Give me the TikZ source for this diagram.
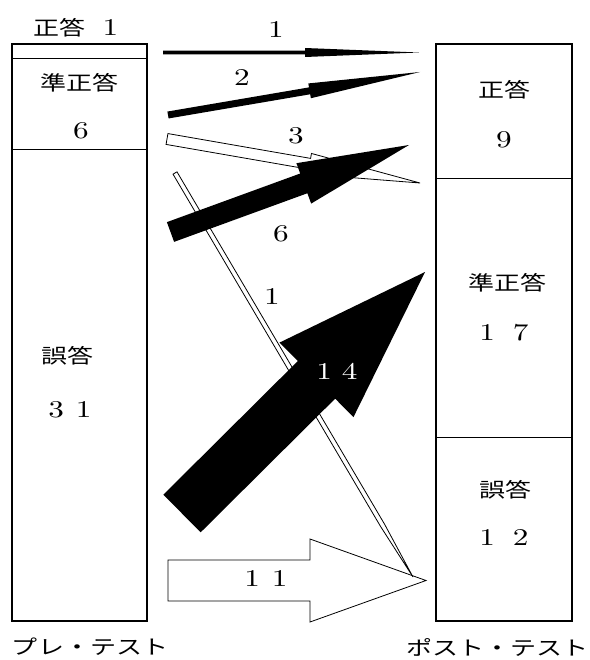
\documentclass[tikz,border=0pt]{standalone}
\usepackage{fontspec}
\newfontfamily\jpfont{Noto Sans CJK JP}[FakeStretch=1.3]
\newfontfamily\dgfont{lmroman10-regular.otf}[FakeStretch=1.3]
\usetikzlibrary{calc}
\newcommand\jtext[1]{{\jpfont\fontsize{20}{24}\selectfont #1}}
\newcommand\dtext[1]{{\dgfont\fontsize{24}{28}\selectfont #1}}
% #1 style, #2 tail, #3 tip, #4 half shaft width, #5 half head width, #6 head length
\newcommand\blockarrow[6]{%
  \coordinate (hb-#2) at ($(#3)!#6!(#2)$);
  \path[#1] ($(#2)!#4!90:(#3)$) -- ($(hb-#2)!#4!90:(#3)$) -- ($(hb-#2)!#5!90:(#3)$)
    -- (#3) -- ($(hb-#2)!#5!-90:(#3)$) -- ($(hb-#2)!#4!-90:(#3)$) -- ($(#2)!#4!-90:(#3)$) -- cycle;}
\tikzset{
  boxline/.style={line width=1.8pt},
  divline/.style={line width=0.8pt},
  lbl/.style={inner sep=0pt, anchor=center},
  blackarrow/.style={fill=black},
  hollowarrow/.style={fill=white, draw=black, line width=0.8pt, line join=miter},
}
\begin{document}
\begin{tikzpicture}[x=1pt,y=-1pt]
\useasboundingbox (0,0) rectangle (589,660);
% boxes
\draw[boxline] (12,44) rectangle (147,621);
\draw[divline] (12,58) -- (147,58);
\draw[divline] (12,149) -- (147,149);
\draw[boxline] (436,44) rectangle (572,621);
\draw[divline] (436,178) -- (572,178);
\draw[divline] (436,437) -- (572,437);
% box labels
\node[lbl] (top) at (76,28) {\jtext{正答}\hspace{17pt}\dtext{1}};
\node[lbl] (lq) at (79,83) {\jtext{準正答}};
\node[lbl] (lqn) at (81,131) {\dtext{6}};
\node[lbl] (lw) at (67,356) {\jtext{誤答}};
\node[lbl] (lwn) at (70,410) {\dtext{3\hspace{12pt}1}};
\node[lbl] (rc) at (504,90) {\jtext{正答}};
\node[lbl] (rcn) at (504,140) {\dtext{9}};
\node[lbl] (rq) at (507,283) {\jtext{準正答}};
\node[lbl] (rqn) at (504,333) {\dtext{1\hspace{18pt}7}};
\node[lbl] (rw) at (505,490) {\jtext{誤答}};
\node[lbl] (rwn) at (504,538) {\dtext{1\hspace{18pt}2}};
\node[lbl] (pre) at (90,647) {\jtext{プレ・テスト}};
\node[lbl] (post) at (497,647) {\jtext{ポスト・テスト}};
% arrow end points
\coordinate (a1s) at (163,52.5);   \coordinate (a1e) at (419,52.5);
\coordinate (a2s) at (168,115);    \coordinate (a2e) at (420,72);
\coordinate (a3s) at (167,139);    \coordinate (a3e) at (420,183);
\coordinate (a6s) at (170.5,232);  \coordinate (a6e) at (409,145);
\coordinate (a14s) at (182,513.5); \coordinate (a14e) at (425,272);
\coordinate (ads) at (175,173);    \coordinate (ade) at (413,577);
\coordinate (a11s) at (168,580.5); \coordinate (a11e) at (426,580.5);
% hollow arrows
\blockarrow{hollowarrow}{a3s}{a3e}{5.5pt}{10.5pt}{112pt}
\blockarrow{hollowarrow}{a11s}{a11e}{20.5pt}{41.5pt}{116pt}
\blockarrow{hollowarrow}{ads}{ade}{2.3pt}{2.3pt}{60pt}
% black arrows
\blockarrow{blackarrow}{a1s}{a1e}{1.8pt}{4.5pt}{114pt}
\blockarrow{blackarrow}{a2s}{a2e}{3.5pt}{7.5pt}{112pt}
\blockarrow{blackarrow}{a6s}{a6e}{10.5pt}{21.5pt}{112pt}
\blockarrow{blackarrow}{a14s}{a14e}{26.5pt}{52.5pt}{153pt}
% arrow labels
\node[lbl] (n1) at (276,30) {\dtext{1}};
\node[lbl] (n2) at (242,78) {\dtext{2}};
\node[lbl] (n3) at (296,136) {\dtext{3}};
\node[lbl] (n6) at (281,234) {\dtext{6}};
\node[lbl] (nd) at (272,297) {\dtext{1}};
\node[lbl, text=white] (n14) at (337,371) {\dtext{1\hspace{10pt}4}};
\node[lbl] (n11) at (266,579) {\dtext{1\hspace{12pt}1}};
\end{tikzpicture}
\end{document}
